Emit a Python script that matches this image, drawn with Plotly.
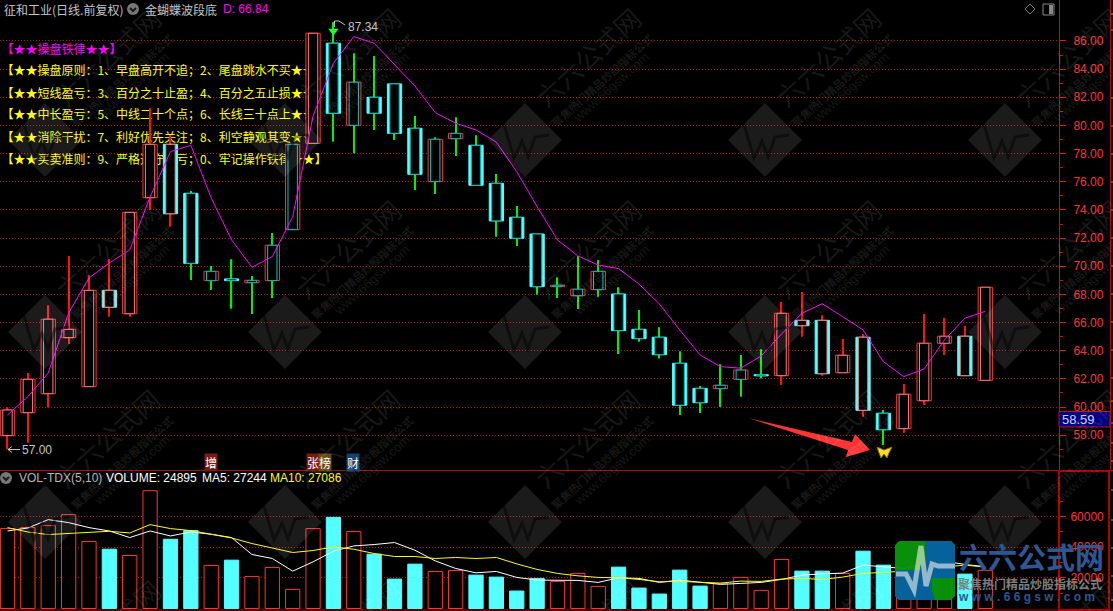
import plotly.graph_objects as go

W_PX, H_PX = 1113, 611

# ---------- data ----------
body_top = [59.79,61.97,66.24,65.52,68.29,68.29,73.83,78.66,78.66,75.18,69.64,69.10,69.00,71.49,78.66,86.55,85.84,83.07,82.00,82.95,
            79.80,79.02,79.44,78.59,75.89,73.48,72.29,68.65,68.37,69.64,68.03,65.52,64.96,63.11,61.33,61.55,62.63,62.30,66.66,66.16,
            66.16,63.68,64.96,59.56,60.91,64.53,65.03,65.03,68.51]
body_bot = [57.97,59.60,60.95,64.93,61.45,67.09,66.63,74.87,73.73,70.21,68.98,68.98,68.83,68.98,72.60,78.73,80.87,80.01,80.87,79.44,
            76.53,76.01,79.06,75.75,73.22,71.99,68.55,68.55,67.91,68.34,65.43,64.86,63.72,60.13,60.31,61.31,61.97,62.22,62.23,65.78,
            62.37,62.44,59.77,58.39,58.47,60.45,64.53,62.23,61.90]
high = [59.99,62.42,67.23,70.73,69.36,70.50,73.83,81.22,79.32,75.35,70.02,70.50,69.31,72.36,78.66,86.55,87.34,85.13,84.93,82.95,
        80.67,79.16,80.58,79.30,76.55,74.28,72.29,69.22,70.73,70.45,68.51,66.90,65.67,63.96,61.50,63.04,63.70,64.10,67.46,68.17,
        66.52,64.84,65.19,59.79,61.64,66.61,66.33,65.76,68.51]
low = [57.00,57.47,59.96,64.48,61.45,66.42,66.42,74.00,72.81,69.03,68.32,66.99,66.61,67.75,72.60,78.73,78.85,78.02,79.68,78.97,
       75.42,75.13,77.83,75.75,72.10,71.44,67.98,67.75,66.97,67.84,63.77,64.64,63.44,59.44,59.58,60.01,60.74,62.02,61.57,65.00,
       62.23,62.44,59.32,57.31,58.18,60.15,63.70,62.23,61.90]
# candle kind: R red, C cyan, CR cyan outer + pink inner, RC red outer + teal inner
kind = ["R","R","R","R","R","CR","R","R","CR","C","RC","C","RC","RC","RC","R","C","RC","C","C",
        "C","RC","RC","C","C","C","C","RC","RC","RC","C","C","C","C","C","RC","RC","C","R","CR",
        "CR","R","CR","C","R","R","R","CR","R"]
trend = [59.44,60.74,62.42,66.68,69.17,70.23,71.16,74.92,78.14,78.59,74.85,71.87,69.93,70.68,73.52,80.67,84.42,86.31,85.84,84.30,
         82.80,80.91,80.16,79.68,78.81,76.72,74.23,71.87,70.73,70.09,69.83,68.74,67.32,65.48,63.70,62.87,62.76,63.63,65.19,66.66,
         67.34,66.42,65.48,63.22,62.16,62.71,64.77,66.31,66.80]
volume = [52130,52780,54080,61230,43680,38680,34580,76830,45180,50830,28080,31530,20930,26780,12480,52130,59480,50180,35430,19180,
          28930,24180,24830,21780,20480,11380,19630,17680,22880,14430,26980,13330,9430,25030,14630,16380,20280,11830,31980,24380,
          24380,22880,37380,28280,21780,40630,28280,22430,24895]
vol_up = [True,True,True,True,True,False,True,True,False,False,True,False,True,True,True,True,False,True,False,False,
          False,True,True,False,False,False,False,True,True,True,False,False,False,False,False,True,True,True,True,False,
          False,True,False,False,True,True,True,False,True]
ma5 = [50570,52520,57980,56030,52780,50570,46280,50570,47320,49920,48430,46280,35230,32630,24380,30420,37380,40820,41730,43030,
       38030,31070,26130,23270,24180,20280,18530,18330,18330,17030,20020,19630,17030,18530,17230,15730,16380,17030,18980,21780,
       22620,23080,28280,27170,26130,29380,30880,28730,27244]
ma10 = [52780,49920,48230,49080,49920,50380,49270,54730,52130,50830,48430,46020,42380,39520,36530,37830,40170,38680,35880,33930,
        33930,32630,33280,32630,33280,29120,25480,22880,21320,20280,20020,18980,17420,17680,17030,16580,17880,17680,19180,19630,
        18980,20480,22880,23730,24380,25030,27170,28280,27086]
price_ticks = [58,60,62,64,66,68,70,72,74,76,78,80,82,84,86]
price_labels = ["58.00","60.00","62.00","64.00","66.00","68.00","70.00","72.00","74.00","76.00","78.00","80.00","82.00","84.00","86.00"]
vol_ticks = [20000,40000,60000]
vol_labels = ["20000","40000","60000"]
rule_lines = ["【★★操盘铁律★★】",
              "【★★操盘原则：1、早盘高开不追；2、尾盘跳水不买★★】",
              "【★★短线盈亏：3、百分之十止盈；4、百分之五止损★★】",
              "【★★中长盈亏：5、中线二十个点；6、长线三十点上★★】",
              "【★★消除干扰：7、利好优先关注；8、利空静观其变★★】",
              "【★★买卖准则：9、严格遵守盈亏；0、牢记操作铁律★★】"]
rule_levels = [85.31,83.79,82.19,80.64,79.06,77.50]
signal_price = [86.71]
signal_index = [16]

# ---------- styles ----------
RED, PINK, CYAN, TEAL = "#FF3232", "#FF7C7C", "#54FFFF", "#00C4C4"
WICK_RED, WICK_GREEN = "#FF1010", "#00F000"
CJK = "Noto Sans CJK SC"
LATIN = "Liberation Sans"
BW_OUT, BW_IN = 0.70, 0.46
x = list(range(len(kind)))

def X(p): return p / W_PX
def Y(p): return 1 - p / H_PX
def path(points, close=True):
    s = "M" + " L".join(f"{X(a):.5f},{Y(b):.5f}" for a, b in points)
    return s + (" Z" if close else "")

fig = go.Figure()

# rules sit under the candles, so they live on the base axis
fig.add_trace(go.Scatter(x=[-0.30] * len(rule_lines), y=rule_levels, text=rule_lines, mode="text",
                         textposition="middle right", cliponaxis=False, hoverinfo="skip",
                         textfont=dict(family=CJK, size=12,
                                       color=["#FF00FF"] + ["#FFFF00"] * (len(rule_lines) - 1)),
                         showlegend=False, xaxis="x", yaxis="y"))

wick_col = [WICK_RED if k in ("R", "CR") else WICK_GREEN for k in kind]
fig.add_trace(go.Bar(x=x, base=low, y=[h - l for h, l in zip(high, low)], width=0.06,
                     marker=dict(color=wick_col, line=dict(width=0)), hoverinfo="skip", yaxis="y3", showlegend=False))
fig.add_trace(go.Bar(x=x, base=body_bot, y=[t - b for t, b in zip(body_top, body_bot)], width=BW_OUT,
                     marker=dict(color=[CYAN if k in ("C", "CR") else "#000000" for k in kind],
                                 line=dict(color=[CYAN if k in ("C", "CR") else RED for k in kind], width=1)),
                     hoverinfo="skip", yaxis="y3", showlegend=False))
fig.add_trace(go.Bar(x=x, base=body_bot, y=[t - b for t, b in zip(body_top, body_bot)], width=BW_IN,
                     marker=dict(color="#000000",
                                 line=dict(color=[PINK if k in ("R", "CR") else TEAL for k in kind], width=1)),
                     hoverinfo="skip", yaxis="y3", showlegend=False))
fig.add_trace(go.Scatter(x=x, y=trend, mode="lines", line=dict(color="#FF00FF", width=1),
                         hoverinfo="skip", yaxis="y3", showlegend=False))
fig.add_trace(go.Scatter(x=signal_index, y=signal_price, mode="markers",
                         marker=dict(symbol="triangle-down", size=9, color="#22FF22"),
                         hoverinfo="skip", yaxis="y3", showlegend=False))

fig.add_trace(go.Bar(x=x, y=volume, width=BW_OUT,
                     marker=dict(color=["#000000" if u else CYAN for u in vol_up],
                                 line=dict(color=[RED if u else CYAN for u in vol_up], width=1)),
                     hoverinfo="skip", yaxis="y2", showlegend=False))
fig.add_trace(go.Scatter(x=x, y=ma5, mode="lines", line=dict(color="#FFFFFF", width=1),
                         hoverinfo="skip", yaxis="y2", showlegend=False))
fig.add_trace(go.Scatter(x=x, y=ma10, mode="lines", line=dict(color="#FFFF00", width=1),
                         hoverinfo="skip", yaxis="y2", showlegend=False))

# ---------- annotations ----------
ann = []
def note(px, py, text, color, size=12, family=CJK, anchor="left", **kw):
    ann.append(dict(x=X(px), y=Y(py), xref="paper", yref="paper", text=text, showarrow=False,
                    xanchor=anchor, yanchor="middle", font=dict(color=color, size=size, family=family), **kw))

note(2, 9, "征和工业(日线.前复权)", "#C4C4C4", 12)
note(143, 9, "金蝴蝶波段底", "#C4C4C4", 12)
note(221, 9, "D: 66.84", "#FF00FF", 12, LATIN)
note(17, 478, "VOL-TDX(5,10)", "#B8B8B8", 12, LATIN)
note(104, 478, "VOLUME: 24895", "#FFFFFF", 12, LATIN)
note(200, 478, "MA5: 27244", "#FFFFFF", 12, LATIN)
note(268, 478, "MA10: 27086", "#FFFF00", 12, LATIN)
note(20, 450, "57.00", "#C4C4C4", 12, LATIN)
note(346, 27, "87.34", "#C4C4C4", 12, LATIN)
note(1060, 419, "58.59", "#D0D0FF", 13, LATIN)
for px, txt, bg in [(204, "增", "#7C1A10"), (306, "张", "#7C1A10"), (318, "榜", "#6A4A10"), (346, "财", "#123E70")]:
    note(px, 462, txt, "#FFFFFF", 12, bgcolor=bg, borderpad=0)

# ---------- shapes ----------
shapes = []
def poly(points, fill=None, line=None, width=1, close=True):
    shapes.append(dict(type="path", xref="paper", yref="paper", path=path(points, close), layer="above",
                       fillcolor=fill if fill else "rgba(0,0,0,0)",
                       line=dict(color=line if line else "rgba(0,0,0,0)", width=width if line else 0)))

# low and high price pointers
poly([(20, 449.5), (8, 449.5)], line="#C4C4C4", close=False)
poly([(12, 446.5), (8, 449.5), (12, 452.5)], line="#C4C4C4", close=False)
poly([(334.5, 27), (334.5, 21), (339, 21), (345, 25)], line="#C4C4C4", close=False)

# watermark tiles
WM = "rgba(255,255,255,0.105)"
for cy in (140, 332, 522, 712):
    for cx in (45, 285, 525, 765, 1005):
        note(cx + 62, cy - 84, "六六公式网", WM, 26, anchor="center", textangle=-42)
        if cy < 611:
            r, c = 37, 7
            d = [(cx - r + c, cy - c), (cx - c, cy - r + c), (cx, cy - r), (cx + c, cy - r + c), (cx + r - c, cy - c),
                 (cx + r, cy), (cx + r - c, cy + c), (cx + c, cy + r - c), (cx, cy + r), (cx - c, cy + r - c),
                 (cx - r + c, cy + c), (cx - r, cy)]
            poly(d, fill=WM)
            poly([(cx - 21, cy - 16), (cx - 11, cy + 18), (cx - 3, cy + 1), (cx + 3, cy + 17), (cx + 10, cy - 3),
                  (cx + 24, cy - 5)], line="rgba(0,0,0,0.45)", width=3, close=False)
            note(cx + 77, cy - 60, "<b>聚焦热门精品炒股指标公式</b>", WM, 11, anchor="center", textangle=-42)
            note(cx + 86, cy - 52, "www.66gsw.com", WM, 13, LATIN, anchor="center", textangle=-42)

# red pointer and butterfly
poly([(748, 418), (852, 442), (855, 434), (870, 450), (846, 457), (848, 450)], fill="#FF3434")
poly([(884, 450), (877, 447), (879, 453), (881, 458), (884, 454), (887, 458), (889, 453), (892, 447)],
     fill="#F2E022", line="#8A6A00", width=1)

# header icons
for cx, cy in ((133, 9), (6, 478)):
    shapes.append(dict(type="circle", xref="paper", yref="paper", x0=X(cx - 6), x1=X(cx + 6), y0=Y(cy + 6), y1=Y(cy - 6),
                       fillcolor="#777777", line=dict(width=0), layer="above"))
    poly([(cx - 3, cy - 1), (cx, cy + 2), (cx + 3, cy - 1)], line="#1A1A1A", width=2, close=False)
poly([(1030, 4), (1035, 9), (1030, 14), (1025, 9)], line="#777777")
shapes.append(dict(type="rect", xref="paper", yref="paper", x0=X(1043), x1=X(1054), y0=Y(15), y1=Y(4),
                   line=dict(color="#888888", width=1), fillcolor="rgba(0,0,0,0)", layer="above"))
shapes.append(dict(type="rect", xref="paper", yref="paper", x0=X(1049), x1=X(1053), y0=Y(14), y1=Y(5),
                   line=dict(width=0), fillcolor="#888888", layer="above"))

# panel furniture
DARK = "#A80A0A"
poly([(0, 470.5), (1113, 470.5)], line=DARK, close=False)
poly([(0, 610), (1113, 610)], line=DARK, close=False)
poly([(1110.5, 0), (1110.5, 470)], line=DARK, close=False)
poly([(1059, 471), (1109, 471), (1109, 610), (1059, 610)], line="#B00000", width=2)
for gy in (14, 30, 98, 126, 154, 182, 210, 238, 266, 294, 322, 350, 378, 401, 423, 443, 461, 490, 520, 548, 576, 600):
    poly([(1111, gy), (1113, gy)], line="#9A9A9A", close=False)
shapes.append(dict(type="rect", xref="paper", yref="paper", x0=X(1059), x1=X(1110), y0=Y(427), y1=Y(411.5),
                   fillcolor="#000080", line=dict(color="#C01020", width=1), layer="above"))

# corner logo
poly([(899, 541), (951, 541), (955, 545), (955, 596), (951, 600), (899, 600), (895, 596), (895, 545)], fill="rgba(8,150,10,0.96)")
poly([(925, 541), (951, 541), (955, 545), (955, 566), (925, 566)], fill="rgba(6,96,160,0.96)")
poly([(895, 570), (925, 570), (935, 600), (899, 600), (895, 596)], fill="rgba(6,96,160,0.96)")
poly([(920, 566), (955, 566), (955, 578), (932, 578), (932, 600), (925, 600)], fill="rgba(6,96,160,0.96)")
poly([(896, 574), (906, 574), (914, 590), (921, 546), (926, 586), (932, 564), (938, 566), (955, 566)],
     line="rgba(235,235,235,0.62)", width=5, close=False)
note(1031, 556, "<b>六六公式网</b>", "#2C5694", 29, anchor="center")
note(1030, 583, "<b>聚焦热门精品炒股指标公式</b>", "#7E7E7E", 12, anchor="center")
note(1026, 597, "<b>w w w . 6 6 g s w . c o m</b>", "#2C5694", 12, LATIN, anchor="center")

DOM_X = [0, 1059 / W_PX]
MAIN_RANGE = [55.53, 88.91]
fig.update_layout(
    width=W_PX, height=H_PX, margin=dict(l=0, r=0, t=0, b=0),
    paper_bgcolor="#000000", plot_bgcolor="#000000", barmode="overlay", showlegend=False,
    xaxis=dict(domain=DOM_X, range=[-0.368, 51.62], visible=False, fixedrange=True),
    yaxis=dict(domain=[Y(470), 1], range=MAIN_RANGE, side="right", anchor="x", tickvals=price_ticks, ticktext=price_labels,
               ticks="outside", ticklen=6, tickcolor="#E01818", ticklabelstandoff=5,
               tickfont=dict(color="#FF3232", size=12, family=LATIN),
               showgrid=True, gridcolor="#B81010", griddash="1px,2px", gridwidth=1, zeroline=False,
               showline=True, linecolor="#C81010", linewidth=1,
               minor=dict(tickmode="array", tickvals=[57,59,61,63,65,67,69,71,73,75,77,79,81,83,85],
                          ticks="outside", ticklen=3, tickcolor="#C81010", showgrid=False)),
    yaxis3=dict(domain=[Y(470), 1], range=MAIN_RANGE, overlaying="y", anchor="x", visible=False),
    yaxis2=dict(domain=[Y(610), Y(471)], range=[-975, 89700], side="right", anchor="x", tickvals=vol_ticks, ticktext=vol_labels,
                ticks="outside", ticklen=6, tickcolor="#E01818", ticklabelstandoff=2,
                tickfont=dict(color="#FF3232", size=12, family=LATIN),
                showgrid=True, gridcolor="#B81010", griddash="1px,2px", gridwidth=1, zeroline=False,
                showline=False,
                minor=dict(tickmode="array", tickvals=[10000,30000,50000,70000], ticks="outside", ticklen=3,
                           tickcolor="#C81010", showgrid=False)),
    annotations=ann, shapes=shapes,
)

fig.write_html("out.html", config=dict(displayModeBar=False),
               post_script="document.body.style.margin='0';document.body.style.overflow='hidden';")
